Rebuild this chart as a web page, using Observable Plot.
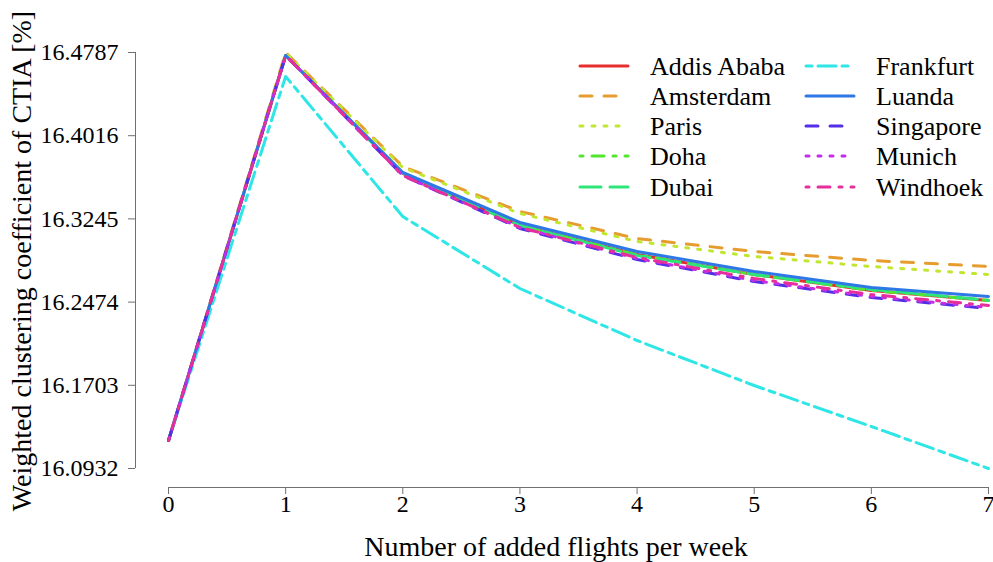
<!DOCTYPE html>
<html>
<head>
<meta charset="utf-8">
<script src="https://cdn.jsdelivr.net/npm/d3@7"></script>
<script src="https://cdn.jsdelivr.net/npm/@observablehq/plot@0.6"></script>
<style>
  html, body { margin: 0; padding: 0; background: #fff; }
  #chart svg, #chart svg text { font-family: "Liberation Serif", "DejaVu Serif", serif !important; }
  #chart svg text { fill: #000; }
</style>
</head>
<body>
<div id="chart"></div>
<script>
// Added flights per week (x axis)
const flights = [0, 1, 2, 3, 4, 5, 6, 7];

// Weighted clustering coefficient of CTIA [%] per hub city
const addisAbaba = [16.1191, 16.4759, 16.3666, 16.3184, 16.2915, 16.2730, 16.2582, 16.2489];
const amsterdam  = [16.1191, 16.4787, 16.3731, 16.3314, 16.3063, 16.2943, 16.2860, 16.2804];
const paris      = [16.1191, 16.4782, 16.3721, 16.3295, 16.3036, 16.2897, 16.2804, 16.2730];
const doha       = [16.1191, 16.4759, 16.3666, 16.3184, 16.2912, 16.2728, 16.2584, 16.2489];
const dubai      = [16.1191, 16.4759, 16.3666, 16.3184, 16.2906, 16.2730, 16.2591, 16.2492];
const frankfurt  = [16.1191, 16.4565, 16.3267, 16.2600, 16.2118, 16.1701, 16.1321, 16.0932];
const luanda     = [16.1191, 16.4759, 16.3675, 16.3212, 16.2943, 16.2758, 16.2609, 16.2526];
const singapore  = [16.1191, 16.4759, 16.3647, 16.3156, 16.2869, 16.2665, 16.2517, 16.2415];
const munich     = [16.1191, 16.4759, 16.3647, 16.3165, 16.2878, 16.2674, 16.2526, 16.2424];
const windhoek   = [16.1191, 16.4759, 16.3647, 16.3165, 16.2887, 16.2693, 16.2544, 16.2443];

const cities = ["Addis Ababa", "Amsterdam", "Paris", "Doha", "Dubai",
                "Frankfurt", "Luanda", "Singapore", "Munich", "Windhoek"];
const cityValues = [addisAbaba, amsterdam, paris, doha, dubai,
                    frankfurt, luanda, singapore, munich, windhoek];

// Y axis tick labels
const yTicks = [16.0932, 16.1703, 16.2474, 16.3245, 16.4016, 16.4787];

// Hue-wheel palette and cycling line types (solid, dashed, dotted, dotdash, longdash, twodash)
const colors = ["#e62e2e", "#e69c2e", "#c1e62e", "#53e62e", "#2ee678",
                "#2ee6e6", "#2e78e6", "#532ee6", "#c12ee6", "#e62e9c"];
const lineTypes = [null, "12,12", "3,9", "3,9,12,9", "21,9", "6,6,18,6"];
const dashOf = i => lineTypes[i % lineTypes.length];

const rows = cities.flatMap((city, i) =>
  flights.map((f, j) => ({city, i, flights: f, value: cityValues[i][j]})));

const yMin = yTicks[0], yMax = yTicks[yTicks.length - 1];
const serif = "'Liberation Serif', 'DejaVu Serif', serif";

const chart = Plot.plot({
  width: 993,
  height: 562,
  marginTop: 52,
  marginBottom: 75,
  marginLeft: 135,
  marginRight: 5,
  style: {fontFamily: serif, color: "#707070", background: "#fff"},
  x: {domain: [0, 7], insetLeft: 33, label: null},
  y: {domain: [yMin, yMax], insetBottom: 19, label: null},
  marks: [
    // axis lines spanning the tick range
    Plot.ruleX([0], {y1: yMin, y2: yMax, dx: -33, stroke: "#707070", strokeWidth: 1}),
    Plot.ruleY([yMin], {x1: 0, x2: 7, dy: 19, stroke: "#707070", strokeWidth: 1}),
    Plot.axisY({ticks: yTicks, tickFormat: d => d.toFixed(4), tickSize: 7, tickPadding: 10,
                fontSize: 24, label: null}),
    Plot.axisX({ticks: flights, tickFormat: d => String(d), tickSize: 7, tickPadding: 0,
                fontSize: 24, label: null}),
    ...cities.map((city, i) =>
      Plot.line(rows.filter(d => d.i === i), {
        x: "flights", y: "value",
        stroke: colors[i], strokeWidth: 3,
        strokeDasharray: dashOf(i), strokeLinecap: "round", strokeLinejoin: "round"
      })),
    Plot.text(["Number of added flights per week"], {
      frameAnchor: "bottom", textAnchor: "middle", dy: 68, dx: -6, fontSize: 28, fill: "#000"
    }),
    Plot.text(["Weighted clustering coefficient of CTIA [%]"], {
      frameAnchor: "left", textAnchor: "middle", rotate: -90, dx: -113, dy: -9,
      fontSize: 28, fill: "#000"
    })
  ]
});

document.getElementById("chart").appendChild(chart);

// Two-column legend in the upper right
const svg = d3.select(chart);
const legend = svg.append("g").attr("font-size", 26).attr("text-anchor", "start");
const colX = [580, 806];
const textX = [650, 876];
const rowY = [66, 96, 126, 156, 187];
cities.forEach((city, i) => {
  const c = Math.floor(i / 5), r = i % 5;
  legend.append("line")
    .attr("x1", colX[c]).attr("x2", colX[c] + 48)
    .attr("y1", rowY[r]).attr("y2", rowY[r])
    .attr("stroke", colors[i]).attr("stroke-width", 3)
    .attr("stroke-linecap", "round")
    .attr("stroke-dasharray", dashOf(i));
  legend.append("text")
    .attr("x", textX[c]).attr("y", rowY[r]).attr("dy", "0.35em")
    .text(city);
});
</script>
</body>
</html>
